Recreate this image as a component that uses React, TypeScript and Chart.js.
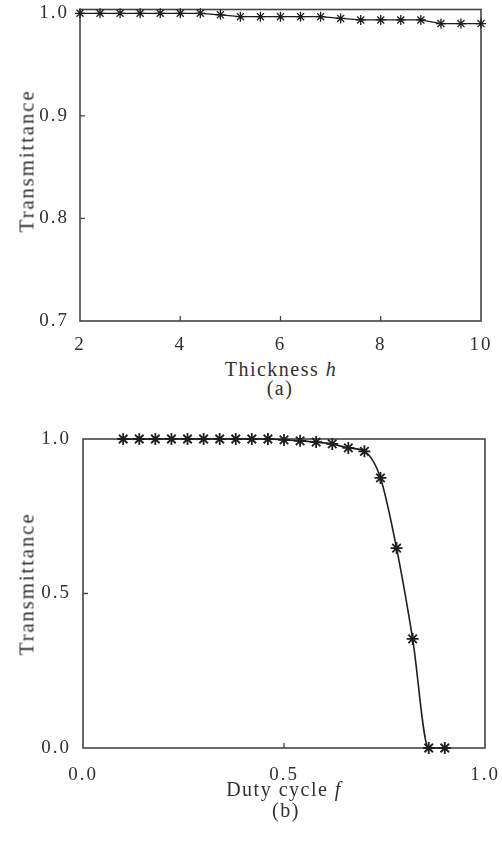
import React, { useEffect, useRef } from "react";
import { Chart, registerables } from "chart.js";

Chart.register(...registerables);

// ---------- data ----------
const thicknessH = [2, 2.4, 2.8, 3.2, 3.6, 4, 4.4, 4.8, 5.2, 5.6, 6, 6.4, 6.8, 7.2, 7.6, 8, 8.4, 8.8, 9.2, 9.6, 10];
const transmittanceA = [1, 1, 1, 1, 1, 1, 1, 0.9985, 0.9967, 0.9967, 0.9967, 0.9967, 0.9967, 0.995, 0.9935, 0.9935, 0.9935, 0.9935, 0.99, 0.99, 0.99];
const xTicksA = [2, 4, 6, 8, 10];
const yTicksA = [0.7, 0.8, 0.9, 1.0];

const dutyCycleF = [0.1, 0.14, 0.18, 0.22, 0.26, 0.3, 0.34, 0.38, 0.42, 0.46, 0.5, 0.54, 0.58, 0.62, 0.66, 0.7, 0.74, 0.78, 0.82, 0.86, 0.9];
const transmittanceB = [1, 1, 1, 1, 1, 1, 1, 1, 1, 1, 0.997, 0.994, 0.99, 0.984, 0.971, 0.96, 0.874, 0.647, 0.353, 0, 0];
const xTicksB = [0, 0.5, 1.0];
const yTicksB = [0, 0.5, 1.0];

// ---------- style ----------
const SERIF = '"Liberation Serif", "Times New Roman", serif';
const TEXT = "#303030";
const LINE = "#1e1e1e";
const FRAME = "#444444";

const framePlugin = {
  id: "frame",
  beforeDraw(chart: any) {
    (chart.ctx as any).letterSpacing = "2px";
  },
  beforeDatasetsDraw(chart: any) {
    const { ctx, chartArea: a, scales } = chart;
    ctx.save();
    (ctx as any).letterSpacing = "0px";
    ctx.strokeStyle = FRAME;
    ctx.lineWidth = 1.6;
    ctx.strokeRect(a.left, a.top, a.right - a.left, a.bottom - a.top);
    ctx.lineWidth = 1.3;
    ctx.beginPath();
    scales.x.ticks.forEach((t: any) => {
      const p = scales.x.getPixelForValue(t.value);
      if (p > a.left + 2 && p < a.right - 2) {
        ctx.moveTo(p, a.bottom);
        ctx.lineTo(p, a.bottom - 5);
      }
    });
    scales.y.ticks.forEach((t: any) => {
      const p = scales.y.getPixelForValue(t.value);
      if (p > a.top + 2 && p < a.bottom - 2) {
        ctx.moveTo(a.left, p);
        ctx.lineTo(a.left + 5, p);
      }
    });
    ctx.stroke();
    ctx.restore();
  },
};

function zeroPad(s: any) {
  s.paddingTop = 0;
  s.paddingBottom = 0;
  s.paddingLeft = 0;
  s.paddingRight = 0;
}

function makeChart(
  canvas: HTMLCanvasElement,
  xs: number[],
  ys: number[],
  opt: {
    xMin: number; xMax: number; yMin: number; yMax: number;
    xTicks: number[]; yTicks: number[];
    xFmt: (v: number) => string; yFmt: (v: number) => string;
    padTop: number; padRight: number; yWidth: number; xHeight: number;
    xPad: number; yPad: number;
    radius: number; pw: number; lw: number; smooth: boolean;
  }
) {
  const tickFont = { family: SERIF, size: 19 };
  return new Chart(canvas, {
    type: "line",
    data: {
      datasets: [
        {
          data: xs.map((x, i) => ({ x, y: ys[i] })),
          borderColor: LINE,
          borderWidth: opt.lw,
          pointStyle: "star",
          pointRadius: opt.radius,
          pointBorderColor: LINE,
          pointBackgroundColor: LINE,
          pointBorderWidth: opt.pw,
          tension: opt.smooth ? 0.4 : 0,
          cubicInterpolationMode: opt.smooth ? "monotone" : "default",
          fill: false,
          clip: false,
        } as any,
      ],
    },
    options: {
      animation: false,
      responsive: false,
      events: [],
      layout: { padding: { top: opt.padTop, right: opt.padRight, left: 0, bottom: 0 } },
      plugins: { legend: { display: false }, tooltip: { enabled: false } },
      scales: {
        x: {
          type: "linear",
          min: opt.xMin,
          max: opt.xMax,
          afterBuildTicks: (s: any) => {
            s.ticks = opt.xTicks.map((v) => ({ value: v }));
          },
          afterFit: (s: any) => {
            s.height = opt.xHeight;
            zeroPad(s);
          },
          grid: { display: false },
          border: { display: false },
          ticks: {
            font: tickFont,
            color: TEXT,
            padding: opt.xPad,
            maxRotation: 0,
            autoSkip: false,
            callback: (v: any) => opt.xFmt(Number(v)),
          },
        },
        y: {
          type: "linear",
          min: opt.yMin,
          max: opt.yMax,
          afterBuildTicks: (s: any) => {
            s.ticks = opt.yTicks.map((v) => ({ value: v }));
          },
          afterFit: (s: any) => {
            s.width = opt.yWidth;
            zeroPad(s);
          },
          grid: { display: false },
          border: { display: false },
          ticks: {
            font: tickFont,
            color: TEXT,
            padding: opt.yPad,
            autoSkip: false,
            callback: (v: any) => opt.yFmt(Number(v)),
          },
        },
      },
    } as any,
    plugins: [framePlugin],
  });
}

const rotTitle = (cx: number, cy: number): React.CSSProperties => ({
  position: "absolute",
  left: cx,
  top: cy,
  transform: "translate(-50%, -50%) rotate(-90deg)",
  fontSize: 21,
  lineHeight: "21px",
  letterSpacing: "1.8px",
  whiteSpace: "nowrap",
});

const hTitle = (cx: number, top: number): React.CSSProperties => ({
  position: "absolute",
  left: cx,
  top,
  transform: "translateX(-50%)",
  fontSize: 20,
  lineHeight: "20px",
  letterSpacing: "1.5px",
  whiteSpace: "nowrap",
});

export default function App() {
  const refA = useRef<HTMLCanvasElement>(null);
  const refB = useRef<HTMLCanvasElement>(null);

  useEffect(() => {
    const a = makeChart(refA.current!, thicknessH, transmittanceA, {
      xMin: 2, xMax: 10, yMin: 0.7, yMax: 1.0037,
      xTicks: xTicksA, yTicks: yTicksA,
      xFmt: (v) => String(v), yFmt: (v) => v.toFixed(1),
      padTop: 9.5, padRight: 21, yWidth: 80, xHeight: 29,
      xPad: 5, yPad: 3,
      radius: 5, pw: 1.3, lw: 1.2, smooth: false,
    });
    const b = makeChart(refB.current!, dutyCycleF, transmittanceB, {
      xMin: 0, xMax: 1, yMin: 0, yMax: 1,
      xTicks: xTicksB, yTicks: yTicksB,
      xFmt: (v) => v.toFixed(1), yFmt: (v) => v.toFixed(1),
      padTop: 19, padRight: 17, yWidth: 83, xHeight: 52,
      xPad: 8, yPad: 4,
      radius: 6, pw: 1.8, lw: 1.6, smooth: true,
    });
    return () => {
      a.destroy();
      b.destroy();
    };
  }, []);

  return (
    <div
      style={{
        position: "absolute",
        left: 0,
        top: 0,
        width: 502,
        height: 843,
        background: "#fff",
        fontFamily: SERIF,
        color: TEXT,
        overflow: "hidden",
      }}
    >
      <canvas ref={refA} width={502} height={350} style={{ position: "absolute", left: 0, top: 0, width: 502, height: 350 }} />
      <div style={rotTitle(27, 161)}>Transmittance</div>
      <div style={hTitle(281, 359)}>
        Thickness <i>h</i>
      </div>
      <div style={hTitle(280, 378)}>(a)</div>

      <canvas ref={refB} width={502} height={380} style={{ position: "absolute", left: 0, top: 420, width: 502, height: 380 }} />
      <div style={rotTitle(27, 584)}>Transmittance</div>
      <div style={hTitle(284, 779)}>
        Duty cycle <i>f</i>
      </div>
      <div style={hTitle(286, 800)}>(b)</div>
    </div>
  );
}
